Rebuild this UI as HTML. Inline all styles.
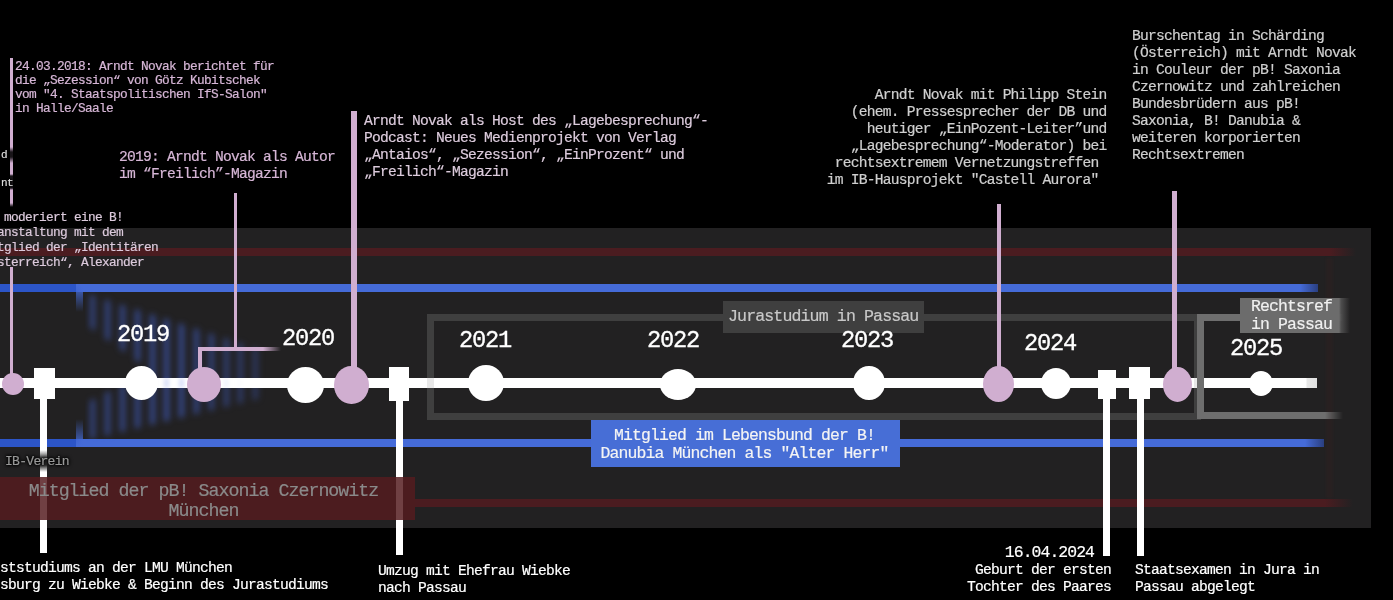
<!DOCTYPE html>
<html><head><meta charset="utf-8">
<style>
html,body{margin:0;padding:0;background:#000;}
body{width:1393px;height:600px;position:relative;overflow:hidden;font-family:"Liberation Mono",monospace;-webkit-font-smoothing:antialiased;}
.t,.yr{will-change:transform;}
.t{-webkit-text-stroke:0.2px currentColor;}
.a{position:absolute;}
.t{position:absolute;white-space:pre;font-family:"Liberation Mono",monospace;}
.f7{font-size:12.8px;letter-spacing:-0.68px;}
.f8{font-size:14.62px;letter-spacing:-0.77px;}
.f9{font-size:16.45px;letter-spacing:-0.87px;}
.f10{font-size:18.3px;letter-spacing:-0.98px;}
.f13{font-size:23.76px;letter-spacing:-1.26px;}
.wc{position:absolute;background:#fff;border-radius:50%;}
.pc{position:absolute;background:#d0aed0;border-radius:50%;}
.pl{position:absolute;background:#d0aed0;}
.w{position:absolute;background:#fff;}
.yr{position:absolute;line-height:27px;color:#fff;white-space:pre;-webkit-text-stroke:0.3px #fff;}
</style></head><body>
<!-- panel -->
<div class="a" style="left:0;top:228px;width:1371px;height:300px;background:#222122"></div>
<!-- red stripes -->
<div class="a" style="left:0;top:248px;width:1356px;height:8px;background:linear-gradient(to right,#4b1c20 0,#4b1c20 1330px,rgba(75,28,32,0) 1356px)"></div>
<div class="a" style="left:415px;top:499px;width:938px;height:8px;background:linear-gradient(to right,#4b1c20 0,#4b1c20 910px,rgba(75,28,32,0) 938px)"></div>
<!-- blue lines -->
<div class="a" style="left:0;top:284px;width:1318px;height:8px;background:linear-gradient(to right,#2c55c8 0,#2c55c8 76px,#456bd8 83px,#456bd8 1300px,#2a3f80 1318px)"></div>
<div class="a" style="left:0;top:439px;width:1324px;height:8px;background:linear-gradient(to right,#2c55c8 0,#2c55c8 76px,#456bd8 83px,#456bd8 1305px,#2a3f80 1324px)"></div>
<div class="a" style="left:76px;top:284px;width:7px;height:28px;background:linear-gradient(#456bd8,rgba(69,107,216,0))"></div>
<div class="a" style="left:76px;top:419px;width:7px;height:28px;background:linear-gradient(rgba(69,107,216,0),#456bd8)"></div>
<!-- blurred stripes -->
<div class="a" style="left:85px;top:290px;width:190px;height:152px;filter:blur(3.2px);-webkit-mask-image:linear-gradient(to right,rgba(0,0,0,0.8) 0,#000 90px,rgba(0,0,0,0.45) 190px);">
<div class="a" style="left:0;top:0;width:190px;height:152px;background:repeating-linear-gradient(to right,transparent 0,transparent 5.4px,rgba(70,105,225,0.62) 5.4px,rgba(70,105,225,0.62) 10.4px,transparent 10.4px,transparent 14.8px);clip-path:polygon(3px 4px,177px 60px,177px 108px,3px 150px,3px 112px,65px 80px,3px 36px);"></div>
</div>
<!-- white timeline -->
<div class="a" style="left:0;top:378px;width:1317px;height:10px;background:linear-gradient(to right,#fff 0,#fff 1306px,#e8e8e8 1307px,#e0e0e0 1317px)"></div>
<div class="a" style="left:1326px;top:258px;width:7px;height:240px;background:rgba(75,28,32,0.16);filter:blur(1px)"></div>
<div class="a" style="left:85px;top:376px;width:170px;height:14px;filter:blur(2px);-webkit-mask-image:linear-gradient(to right,transparent 60px,#000 75px,#000 110px,transparent 160px)"><div class="a" style="left:0;top:2px;width:170px;height:10px;background:repeating-linear-gradient(to right,transparent 0,transparent 5.4px,rgba(70,105,225,0.22) 5.4px,rgba(70,105,225,0.22) 10.4px,transparent 10.4px,transparent 14.8px)"></div></div>
<!-- gray rects -->
<div class="a" style="left:427px;top:314px;width:760px;height:92px;border:7px solid rgba(159,159,159,0.24);"></div>
<div class="a" style="left:1197px;top:314px;width:150px;height:91px;border:7.5px solid #6e6e6e;border-right:none;-webkit-mask-image:linear-gradient(to right,#000 0,#000 128px,transparent 146px)"></div>
<!-- labels -->
<div class="a" style="left:723px;top:301px;width:201px;height:32px;background:#3f3f3f"></div>
<div class="t" style="left:727.6px;top:307.4px;font-size:16.58px;letter-spacing:-0.88px;line-height:20px;color:#c8c8c8">Jurastudium in Passau</div>
<div class="a" style="left:1240px;top:298px;width:110px;height:35px;background:linear-gradient(to right,#6c6c6c 0,#6c6c6c 99px,rgba(108,108,108,0.6) 101px,rgba(108,108,108,0) 110px)"></div>
<div class="t f9" style="left:1251.3px;top:298.4px;line-height:17.6px;color:#f0f0f0">Rechtsref
in Passau</div>
<!-- years -->
<div class="yr f13" style="left:116.7px;top:321.2px">2019</div>
<div class="yr f13" style="left:282.1px;top:324.5px">2020</div>
<div class="yr f13" style="left:458.7px;top:327px">2021</div>
<div class="yr f13" style="left:647.2px;top:327px">2022</div>
<div class="yr f13" style="left:841.0px;top:327.2px">2023</div>
<div class="yr f13" style="left:1024.3px;top:330.3px">2024</div>
<div class="yr f13" style="left:1230.1px;top:335.3px">2025</div>
<!-- white circles -->
<div class="wc" style="left:125px;top:366px;width:33px;height:34px"></div>
<div class="wc" style="left:287px;top:367px;width:37px;height:36px"></div>
<div class="wc" style="left:468px;top:365px;width:36px;height:36px"></div>
<div class="wc" style="left:659.5px;top:369px;width:36px;height:31px"></div>
<div class="wc" style="left:853px;top:366px;width:31.5px;height:34px"></div>
<div class="wc" style="left:1040.5px;top:368px;width:30px;height:31px"></div>
<div class="wc" style="left:1248.5px;top:371px;width:24px;height:25px"></div>
<!-- pink lines -->
<div class="a" style="left:10px;top:58px;width:3px;height:149px;background:linear-gradient(#d0aed0 0,#d0aed0 89px,rgba(208,174,208,0.12) 94px,rgba(208,174,208,0.12) 99px,#d0aed0 105px,#d0aed0 116px,rgba(208,174,208,0.12) 118px,rgba(208,174,208,0.12) 130px,#d0aed0 132px,#d0aed0 145px,rgba(208,174,208,0) 149px)"></div>
<div class="pl" style="left:10px;top:267px;width:3px;height:117px"></div>
<div class="pl" style="left:233.5px;top:193px;width:3.8px;height:157px"></div>
<div class="a" style="left:198px;top:346.5px;width:83px;height:4px;background:linear-gradient(to right,#d0aed0 0,#d0aed0 65px,rgba(208,174,208,0) 83px)"></div>
<div class="pl" style="left:198px;top:346.5px;width:4.4px;height:38px"></div>
<div class="pl" style="left:351px;top:111px;width:5.5px;height:273px"></div>
<div class="pl" style="left:996.5px;top:204px;width:4.5px;height:180px"></div>
<div class="pl" style="left:1172px;top:191px;width:4.5px;height:193px"></div>
<!-- pink circles -->
<div class="pc" style="left:2px;top:373px;width:22px;height:22px"></div>
<div class="pc" style="left:187px;top:367px;width:34px;height:34.5px"></div>
<div class="pc" style="left:334px;top:366px;width:34.5px;height:38px"></div>
<div class="pc" style="left:983px;top:366px;width:31px;height:36px"></div>
<div class="pc" style="left:1163px;top:366.5px;width:29px;height:35px"></div>
<!-- white squares + verticals -->
<div class="w" style="left:34px;top:368px;width:21px;height:31px"></div>
<div class="w" style="left:40px;top:399px;width:7px;height:154px"></div>
<div class="w" style="left:389px;top:367px;width:20px;height:34px"></div>
<div class="w" style="left:396px;top:401px;width:7px;height:154px"></div>
<div class="w" style="left:1098px;top:370px;width:17.5px;height:28.5px"></div>
<div class="w" style="left:1103px;top:398px;width:7px;height:158px"></div>
<div class="w" style="left:1128.5px;top:366.5px;width:21px;height:32.5px"></div>
<div class="w" style="left:1137px;top:399px;width:7px;height:157px"></div>
<!-- red box -->
<div class="a" style="left:0;top:477px;width:415px;height:43px;background:rgba(85,28,31,0.84)"></div>
<div class="t f10" style="left:-4.5px;top:481px;width:415px;text-align:center;line-height:20px;color:#8a8a8a;white-space:pre">Mitglied der pB! Saxonia Czernowitz
München</div>
<div class="a" style="left:40px;top:450px;width:7px;height:24px;background:linear-gradient(rgba(34,33,34,0) 0,rgba(20,20,20,0.85) 9px,rgba(20,20,20,0.9) 15px,rgba(34,33,34,0) 22px)"></div>
<div class="t" style="left:5px;top:454px;font-size:13px;letter-spacing:-0.7px;line-height:15px;color:#999;text-shadow:0 0 2px #000,0 0 3px #000,0 0 4px #000,0 0 4px #000">IB-Verein</div>
<!-- blue label -->
<div class="a" style="left:591px;top:420px;width:309px;height:47px;background:#476ed6"></div>
<div class="t f9" style="left:590.3px;top:426.6px;width:309px;text-align:center;line-height:17.8px;color:#f4f4f4">Mitglied im Lebensbund der B!
Danubia München als "Alter Herr"</div>
<!-- top texts -->
<div class="t f7" style="left:15.1px;top:59.5px;line-height:14px;color:#d6b6d6">24.03.2018: Arndt Novak berichtet für
die „Sezession“ von Götz Kubitschek
vom "4. Staatspolitischen IfS-Salon"
in Halle/Saale</div>
<div class="t" style="left:1px;top:140.5px;font-size:11px;letter-spacing:-0.6px;line-height:28px;color:#ddd;text-shadow:0 0 2px #000,0 0 3px #000,0 0 4px #000">d
nt</div>
<div class="t f8" style="left:118.5px;top:148.7px;line-height:16.6px;color:#d6b6d6">2019: Arndt Novak als Autor
im “Freilich”-Magazin</div>
<div class="t f8" style="left:363.7px;top:113.1px;line-height:17px;color:#dccbdc">Arndt Novak als Host des „Lagebesprechung“-
Podcast: Neues Medienprojekt von Verlag
„Antaios“, „Sezession“, „EinProzent“ und
„Freilich“-Magazin</div>
<div class="t f7" style="left:-3.5px;top:209.75px;line-height:15px;color:#dccadc"> moderiert eine B!
anstaltung mit dem
tglied der „Identitären
sterreich“, Alexander</div>
<div class="t f8" style="left:806px;top:86.5px;width:300.6px;text-align:right;line-height:17px;color:#cfcfcf">Arndt Novak mit Philipp Stein
(ehem. Pressesprecher der DB und
heutiger „EinPozent-Leiter”und
„Lagebesprechung“-Moderator) bei
rechtsextremem Vernetzungstreffen 
im IB-Hausprojekt "Castell Aurora" </div>
<div class="t f8" style="left:1132.4px;top:27.5px;line-height:17px;color:#cfcfcf">Burschentag in Schärding
(Österreich) mit Arndt Novak
in Couleur der pB! Saxonia
Czernowitz und zahlreichen
Bundesbrüdern aus pB!
Saxonia, B! Danubia &amp;
weiteren korporierten
Rechtsextremen</div>
<!-- bottom texts -->
<div class="t f8" style="left:0;top:559.7px;line-height:17px;color:#fff">ststudiums an der LMU München
sburg zu Wiebke &amp; Beginn des Jurastudiums</div>
<div class="t f8" style="left:377.6px;top:563px;line-height:17.2px;color:#fff">Umzug mit Ehefrau Wiebke
nach Passau</div>
<div class="t" style="left:894px;top:543.5px;width:200px;text-align:right;font-size:16.45px;letter-spacing:-0.95px;line-height:18px;color:#fff">16.04.2024</div>
<div class="t f8" style="left:911.2px;top:561.8px;width:200px;text-align:right;line-height:16.8px;color:#fff">Geburt der ersten
Tochter des Paares</div>
<div class="t f8" style="left:1135px;top:561.8px;line-height:16.8px;color:#fff">Staatsexamen in Jura in
Passau abgelegt</div>
</body></html>
